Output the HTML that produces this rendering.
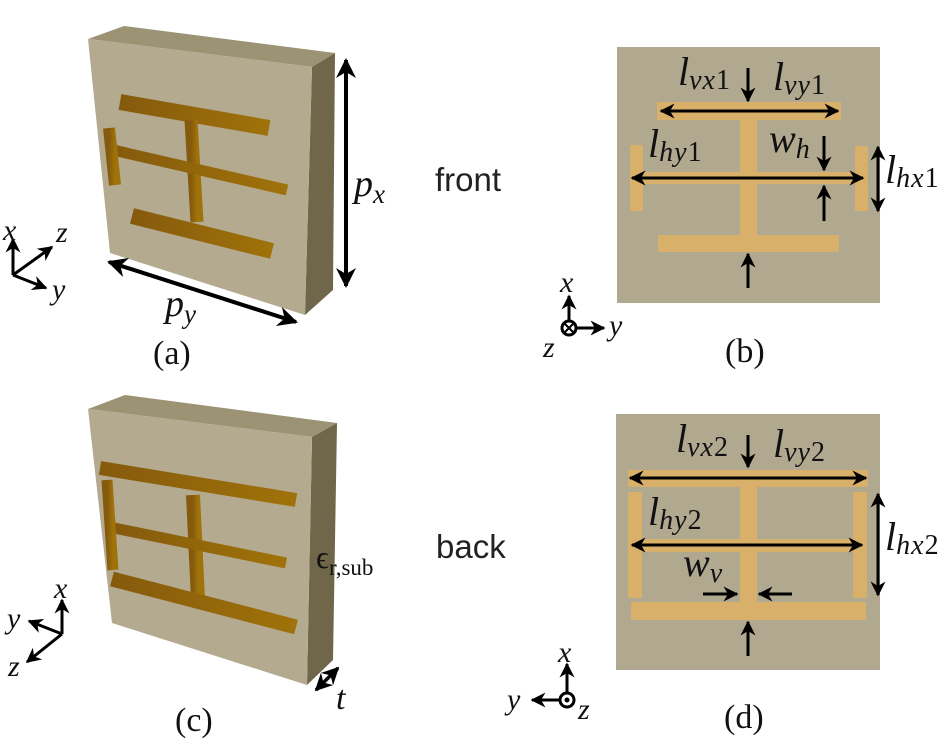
<!DOCTYPE html>
<html><head><meta charset="utf-8"><style>
html,body{margin:0;padding:0;background:#fff;}
svg{display:block;}
.m{font-family:"Liberation Serif",serif;font-style:italic;fill:#111;}
.r{font-family:"Liberation Serif",serif;fill:#111;}
.s{font-family:"Liberation Sans",sans-serif;fill:#222;}
.n{font-style:normal;}
</style></head><body>
<svg width="951" height="740" viewBox="0 0 951 740" xmlns="http://www.w3.org/2000/svg">
<defs>
<linearGradient id="g" x1="0" y1="0" x2="1" y2="0"><stop offset="0" stop-color="#855a0c"/><stop offset="1" stop-color="#a0720a"/></linearGradient>
<marker id="a" viewBox="0 0 10 10" refX="9" refY="5" markerWidth="5" markerHeight="5" orient="auto-start-reverse"><path d="M0,0 L10,5 L0,10 L3,5 z" fill="#000"/></marker>
</defs>

<!-- Panel (a) -->
<polygon points="88,39 124,26 335,53 312,67" fill="#9c9274"/>
<polygon points="312,67 335,53 333,290 305,315" fill="#70674b"/>
<polygon points="88,39 312,67 305,315 110,253" fill="#b3aa90"/>
<g stroke="url(#g)" stroke-linecap="butt">
<line x1="120" y1="102" x2="269" y2="128" stroke-width="16"/>
<line x1="191" y1="120" x2="197" y2="222" stroke-width="13"/>
<line x1="113" y1="150" x2="287" y2="190" stroke-width="11"/>
<line x1="109" y1="128" x2="115" y2="185" stroke-width="12"/>
<line x1="289" y1="166" x2="289" y2="229" stroke-width="12"/>
<line x1="132" y1="216" x2="272" y2="251" stroke-width="16"/>
</g>
<line x1="346" y1="60" x2="346" y2="286" stroke="#000" stroke-width="4" marker-start="url(#a)" marker-end="url(#a)"/>
<text x="354" y="196" class="m" font-size="38">p<tspan font-size="27" dy="7">x</tspan></text>
<line x1="109" y1="262" x2="296" y2="322" stroke="#000" stroke-width="4" marker-start="url(#a)" marker-end="url(#a)"/>
<text x="165" y="316" class="m" font-size="38">p<tspan font-size="27" dy="7">y</tspan></text>
<text x="153" y="364" class="r" font-size="34">(a)</text>
<g stroke="#000" stroke-width="3" fill="none">
<line x1="13" y1="275" x2="13" y2="239" marker-end="url(#a)"/>
<line x1="13" y1="275" x2="52" y2="247" marker-end="url(#a)"/>
<line x1="13" y1="275" x2="46" y2="288" marker-end="url(#a)"/>
</g>
<text x="3" y="240" class="m" font-size="30">x</text>
<text x="56" y="242" class="m" font-size="30">z</text>
<text x="52" y="299" class="m" font-size="30">y</text>

<text x="435" y="191" class="s" font-size="33">front</text>
<text x="436" y="558" class="s" font-size="33">back</text>

<!-- Panel (b) -->
<rect x="617" y="47" width="263" height="256" fill="#b1a890"/>
<g fill="#d9b06a">
<rect x="657" y="102" width="184" height="18"/>
<rect x="740" y="118" width="17" height="120"/>
<rect x="632" y="172" width="232" height="12"/>
<rect x="630" y="145" width="13" height="66"/>
<rect x="855" y="146" width="13" height="65"/>
<rect x="658" y="235" width="181" height="17"/>
</g>
<g stroke="#000" stroke-width="3" fill="none">
<line x1="661" y1="111" x2="838" y2="111" marker-start="url(#a)" marker-end="url(#a)"/>
<line x1="748" y1="68" x2="748" y2="101" marker-end="url(#a)"/>
<line x1="632" y1="178" x2="863" y2="178" marker-start="url(#a)" marker-end="url(#a)"/>
<line x1="824" y1="136" x2="824" y2="170" marker-end="url(#a)"/>
<line x1="824" y1="221" x2="824" y2="186" marker-end="url(#a)"/>
<line x1="878" y1="147" x2="878" y2="211" marker-start="url(#a)" marker-end="url(#a)"/>
<line x1="748" y1="288" x2="748" y2="254" marker-end="url(#a)"/>
</g>
<text x="678" y="85" class="m" font-size="40">l<tspan font-size="28" dy="4" letter-spacing="1">vx</tspan><tspan class="n" font-size="28">1</tspan></text>
<text x="773" y="90" class="m" font-size="40">l<tspan font-size="28" dy="4" letter-spacing="1">vy</tspan><tspan class="n" font-size="28">1</tspan></text>
<text x="648" y="157" class="m" font-size="40">l<tspan font-size="28" dy="4" letter-spacing="1">hy</tspan><tspan class="n" font-size="28">1</tspan></text>
<text x="769" y="152" class="m" font-size="40">w<tspan font-size="28" dy="6">h</tspan></text>
<text x="885" y="183" class="m" font-size="40">l<tspan font-size="28" dy="4" letter-spacing="1">hx</tspan><tspan class="n" font-size="28">1</tspan></text>
<g stroke="#000" stroke-width="3" fill="none">
<line x1="569" y1="328" x2="569" y2="296" marker-end="url(#a)"/>
<line x1="569" y1="328" x2="604" y2="328" marker-end="url(#a)"/>
<circle cx="569" cy="328" r="7" fill="#fff"/>
<line x1="565" y1="324" x2="573" y2="332" stroke-width="2"/><line x1="573" y1="324" x2="565" y2="332" stroke-width="2"/>
</g>
<text x="560" y="292" class="m" font-size="30">x</text>
<text x="609" y="335" class="m" font-size="30">y</text>
<text x="543" y="357" class="m" font-size="30">z</text>
<text x="725" y="362" class="r" font-size="34">(b)</text>

<!-- Panel (c) -->
<polygon points="88,409 125,395 337,423 312,437" fill="#9c9274"/>
<polygon points="312,437 337,423 333,660 307,685" fill="#70674b"/>
<polygon points="88,409 312,437 307,685 112,623" fill="#b3aa90"/>
<g stroke="url(#g)">
<line x1="100" y1="468" x2="296" y2="500" stroke-width="14"/>
<line x1="193" y1="495" x2="198" y2="600" stroke-width="14"/>
<line x1="114" y1="528" x2="286" y2="563" stroke-width="11"/>
<line x1="112" y1="579" x2="296" y2="627" stroke-width="15"/>
<line x1="107" y1="480" x2="113" y2="570" stroke-width="11"/>
<line x1="290" y1="517" x2="290" y2="617" stroke-width="11"/>
</g>
<text x="316" y="568" class="r" font-size="32">ϵ<tspan font-size="23" dy="7">r,sub</tspan></text>
<line x1="316" y1="690" x2="338" y2="668" stroke="#000" stroke-width="3.5" marker-start="url(#a)" marker-end="url(#a)"/>
<text x="336" y="709" class="m" font-size="34">t</text>
<g stroke="#000" stroke-width="3" fill="none">
<line x1="62" y1="634" x2="62" y2="600" marker-end="url(#a)"/>
<line x1="62" y1="634" x2="29" y2="621" marker-end="url(#a)"/>
<line x1="62" y1="634" x2="27" y2="662" marker-end="url(#a)"/>
</g>
<text x="54" y="598" class="m" font-size="30">x</text>
<text x="7" y="628" class="m" font-size="30">y</text>
<text x="8" y="676" class="m" font-size="30">z</text>
<text x="175" y="731" class="r" font-size="34">(c)</text>

<!-- Panel (d) -->
<rect x="616" y="414" width="264" height="256" fill="#b1a890"/>
<g fill="#d9b06a">
<rect x="628" y="470" width="240" height="17"/>
<rect x="740" y="485" width="17" height="120"/>
<rect x="631" y="539" width="231" height="13"/>
<rect x="628" y="492" width="14" height="106"/>
<rect x="853" y="492" width="14" height="106"/>
<rect x="631" y="602" width="235" height="18"/>
</g>
<g stroke="#000" stroke-width="3" fill="none">
<line x1="630" y1="478" x2="866" y2="478" marker-start="url(#a)" marker-end="url(#a)"/>
<line x1="748" y1="435" x2="748" y2="467" marker-end="url(#a)"/>
<line x1="632" y1="545" x2="862" y2="545" marker-start="url(#a)" marker-end="url(#a)"/>
<line x1="878" y1="494" x2="878" y2="595" marker-start="url(#a)" marker-end="url(#a)"/>
<line x1="703" y1="594" x2="737" y2="594" marker-end="url(#a)"/>
<line x1="792" y1="594" x2="759" y2="594" marker-end="url(#a)"/>
<line x1="748" y1="656" x2="748" y2="622" marker-end="url(#a)"/>
</g>
<text x="676" y="452" class="m" font-size="40">l<tspan font-size="28" dy="4" letter-spacing="1">vx</tspan><tspan class="n" font-size="28">2</tspan></text>
<text x="773" y="457" class="m" font-size="40">l<tspan font-size="28" dy="4" letter-spacing="1">vy</tspan><tspan class="n" font-size="28">2</tspan></text>
<text x="648" y="525" class="m" font-size="40">l<tspan font-size="28" dy="4" letter-spacing="1">hy</tspan><tspan class="n" font-size="28">2</tspan></text>
<text x="885" y="550" class="m" font-size="40">l<tspan font-size="28" dy="4" letter-spacing="1">hx</tspan><tspan class="n" font-size="28">2</tspan></text>
<text x="683" y="576" class="m" font-size="40">w<tspan font-size="28" dy="6">v</tspan></text>
<g stroke="#000" stroke-width="3" fill="none">
<line x1="567" y1="700" x2="567" y2="664" marker-end="url(#a)"/>
<line x1="567" y1="700" x2="532" y2="700" marker-end="url(#a)"/>
<circle cx="567" cy="700" r="7" fill="#fff"/>
</g>
<circle cx="567" cy="700" r="2.5" fill="#000"/>
<text x="558" y="662" class="m" font-size="30">x</text>
<text x="507" y="709" class="m" font-size="30">y</text>
<text x="578" y="719" class="m" font-size="30">z</text>
<text x="724" y="728" class="r" font-size="34">(d)</text>
</svg>
</body></html>
